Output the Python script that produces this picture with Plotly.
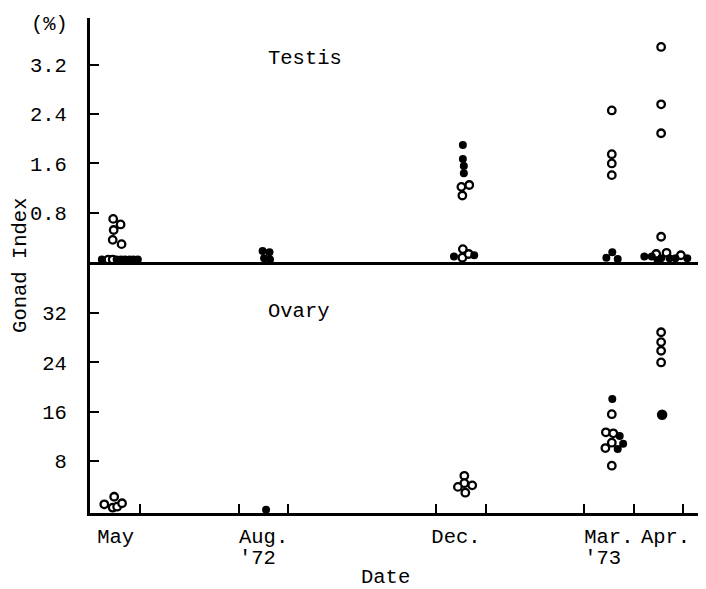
import plotly.graph_objects as go

# x in months since 1 May 1972 (May=0..1, Aug=3..4, Dec=7..8, Mar=10..11, Apr=11..12)
# ---- Testis (%), open circles
testis_open_x = [0.45, 0.60, 0.46, 0.44, 0.62, 0.35, 0.44,
                 7.51, 7.67, 7.53, 7.54, 7.53, 7.66,
                 10.56, 10.56, 10.56, 10.56,
                 11.56, 11.56, 11.56, 11.56, 11.46, 11.67, 11.96]
testis_open_y = [0.70, 0.61, 0.52, 0.36, 0.29, 0.04, 0.04,
                 1.22, 1.25, 1.08, 0.21, 0.07, 0.13,
                 2.46, 1.75, 1.60, 1.41,
                 3.49, 2.56, 2.09, 0.41, 0.13, 0.15, 0.11]
# ---- Testis, filled dots
testis_fill_x = [0.22, 0.52, 0.61, 0.69, 0.78, 0.86, 0.95,
                 3.48, 3.62, 3.51, 3.63,
                 7.54, 7.54, 7.56, 7.56, 7.36, 7.77,
                 10.57, 10.45, 10.68,
                 11.22, 11.37, 11.49, 11.56, 11.73, 11.85, 12.09]
testis_fill_y = [0.04, 0.04, 0.04, 0.04, 0.04, 0.04, 0.04,
                 0.18, 0.16, 0.06, 0.04,
                 1.90, 1.67, 1.56, 1.44, 0.09, 0.11,
                 0.16, 0.07, 0.05,
                 0.09, 0.09, 0.03, 0.06, 0.06, 0.06, 0.06]
# ---- Ovary (%), open circles
ovary_open_x = [0.27, 0.47, 0.44, 0.53, 0.63,
                7.57, 7.57, 7.44, 7.73, 7.59,
                10.56, 10.44, 10.59, 10.56, 10.43, 10.56,
                11.56, 11.56, 11.56, 11.56]
ovary_open_y = [0.97, 2.2, 0.42, 0.58, 1.14,
                5.6, 4.4, 3.8, 4.05, 2.86,
                15.6, 12.66, 12.5, 10.97, 10.1, 7.24,
                28.9, 27.3, 25.9, 24.0]
# ---- Ovary, filled dots
ovary_fill_x = [3.55, 10.57, 10.72, 10.79, 10.68]
ovary_fill_y = [0.1, 18.07, 12.06, 10.8, 9.95]
ovary_big_x = [11.58]
ovary_big_y = [15.5]

month_label_pos = [0.5, 3.5, 7.4, 10.5, 11.65]
month_labels = ["May", "Aug.", "Dec.", "Mar.", "Apr."]
year_label_pos = [3.5, 10.5]
year_labels = ["'72\u00a0", "'73\u00a0"]
month_bounds = [1, 3, 4, 7, 8, 10, 11, 12]
testis_ticks = [0.8, 1.6, 2.4, 3.2]
ovary_ticks = [8, 16, 24, 32]

FONT = "Liberation Mono"
fs = 20.5
black = "black"

open_marker = dict(symbol="circle", size=7.5, color="white", line=dict(color=black, width=2.3))
fill_marker = dict(symbol="circle", size=8, color=black, line=dict(width=0))

fig = go.Figure()
fig.add_trace(go.Scatter(x=testis_open_x, y=testis_open_y, mode="markers", marker=open_marker,
                         xaxis="x2", yaxis="y2", cliponaxis=False, showlegend=False))
fig.add_trace(go.Scatter(x=testis_fill_x, y=testis_fill_y, mode="markers", marker=fill_marker,
                         xaxis="x2", yaxis="y2", cliponaxis=False, showlegend=False))
fig.add_trace(go.Scatter(x=ovary_open_x, y=ovary_open_y, mode="markers", marker=open_marker,
                         xaxis="x", yaxis="y", cliponaxis=False, showlegend=False))
fig.add_trace(go.Scatter(x=ovary_fill_x, y=ovary_fill_y, mode="markers", marker=fill_marker,
                         xaxis="x", yaxis="y", cliponaxis=False, showlegend=False))
fig.add_trace(go.Scatter(x=ovary_big_x, y=ovary_big_y, mode="markers",
                         marker=dict(symbol="circle", size=10.5, color=black, line=dict(width=0)),
                         xaxis="x", yaxis="y", cliponaxis=False, showlegend=False))
fig.add_trace(go.Scatter(x=[], y=[], xaxis="x3", yaxis="y", showlegend=False))

tickfont = dict(family=FONT, size=fs, color=black)
split = 0.507
xr = [-0.02, 12.47]

# page body has an 8px default margin, so the figure is 8px smaller and margins shifted
fig.update_layout(
    width=698, height=581,
    margin=dict(l=82, r=0, t=10, b=76),
    paper_bgcolor="white", plot_bgcolor="white",
    font=dict(family=FONT, size=fs, color=black),
    xaxis=dict(domain=[0, 1], anchor="y", range=xr,
               showline=True, linewidth=3, linecolor=black, showgrid=False, zeroline=False,
               tickmode="array", tickvals=month_label_pos, ticktext=month_labels,
               ticks="", tickfont=tickfont, ticklabelstandoff=2,
               minor=dict(tickmode="array", tickvals=month_bounds, ticks="inside",
                          ticklen=9, tickwidth=2, tickcolor=black, showgrid=False)),
    xaxis3=dict(overlaying="x", anchor="y", side="bottom", matches="x", range=xr,
                showline=False, showgrid=False, zeroline=False,
                tickmode="array", tickvals=year_label_pos, ticktext=year_labels,
                ticks="", tickfont=tickfont, ticklabelstandoff=29),
    xaxis2=dict(domain=[0, 1], anchor="y2", matches="x", range=xr,
                showline=True, linewidth=3, linecolor=black, showgrid=False, zeroline=False,
                showticklabels=False, ticks=""),
    yaxis=dict(domain=[0, split], anchor="x", range=[-0.44, 40.3],
               showline=True, linewidth=3, linecolor=black, showgrid=False, zeroline=False,
               tickmode="array", tickvals=ovary_ticks, ticks="inside", ticklen=9,
               tickwidth=2, tickcolor=black, tickfont=tickfont, ticklabelstandoff=16),
    yaxis2=dict(domain=[split, 1], anchor="x2", range=[0, 3.96],
                showline=True, linewidth=3, linecolor=black, showgrid=False, zeroline=False,
                tickmode="array", tickvals=testis_ticks,
                ticktext=[f"{v:.1f}" for v in testis_ticks], ticks="inside", ticklen=9,
                tickwidth=2, tickcolor=black, tickfont=tickfont, ticklabelstandoff=16),
    annotations=[
        dict(text="Testis", x=3.55, y=3.31, xref="x2", yref="y2", xanchor="left",
             yanchor="middle", showarrow=False, font=dict(family=FONT, size=fs, color=black)),
        dict(text="Ovary", x=3.55, y=32.2, xref="x", yref="y", xanchor="left",
             yanchor="middle", showarrow=False, font=dict(family=FONT, size=fs, color=black)),
        dict(text="(%)", x=-0.065, y=0.986, xref="paper", yref="paper", xanchor="center",
             yanchor="middle", showarrow=False, font=dict(family=FONT, size=fs, color=black)),
        dict(text="Gonad Index", x=-0.113, y=0.5, xref="paper", yref="paper", xanchor="center",
             yanchor="middle", textangle=-90, showarrow=False,
             font=dict(family=FONT, size=fs, color=black)),
        dict(text="Date", x=0.48, y=-0.131, xref="paper", yref="paper", xanchor="center",
             yanchor="middle", showarrow=False, font=dict(family=FONT, size=fs, color=black)),
    ],
)

fig.write_html("out.html")
